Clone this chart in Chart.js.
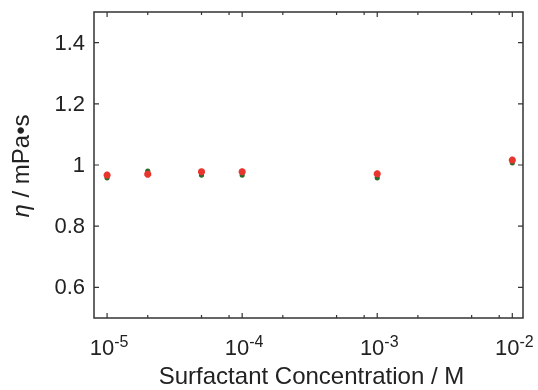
<!DOCTYPE html>
<html><head><meta charset="utf-8">
<script src="https://cdn.jsdelivr.net/npm/chart.js@4/dist/chart.umd.min.js"></script>
<style>body{margin:0;background:#fff}</style>
</head><body>
<canvas id="c" width="538" height="390"></canvas>
<script>
const concentrations = [1e-5, 2e-5, 5e-5, 1e-4, 1e-3, 1e-2];
const viscosityRed = [0.967, 0.970, 0.978, 0.978, 0.971, 1.016];
const viscosityGreen = [0.958, 0.980, 0.967, 0.967, 0.958, 1.007];
const xMajorTicks = [1e-5, 1e-4, 1e-3, 1e-2];
const xTickExponents = ['-5', '-4', '-3', '-2'];
const xMinorTicks = [2e-5, 5e-5, 8e-5, 2e-4, 5e-4, 8e-4, 2e-3, 5e-3, 8e-3];
const yTicks = [0.6, 0.8, 1.0, 1.2, 1.4];
const yTickLabels = ['0.6', '0.8', '1', '1.2', '1.4'];
const xTitle = 'Surfactant Concentration / M';
const yTitleSymbol = 'η';
const yTitleRest = ' / mPa•s';

const FONT = '"Liberation Sans", Arial, sans-serif';
const TEXT = '#222';

const framePlugin = {
  id: 'frame',
  beforeDatasetsDraw(chart) {
    const { ctx, chartArea: a, scales: { x, y } } = chart;
    ctx.save();
    ctx.strokeStyle = '#333';
    ctx.lineWidth = 1.5;
    ctx.strokeRect(a.left, a.top, a.right - a.left, a.bottom - a.top);
    ctx.lineWidth = 1.2;
    ctx.beginPath();
    const xt = (px, len) => {
      ctx.moveTo(px, a.bottom); ctx.lineTo(px, a.bottom - len);
      ctx.moveTo(px, a.top); ctx.lineTo(px, a.top + len);
    };
    xMajorTicks.forEach(v => xt(x.getPixelForValue(v), 5));
    xMinorTicks.forEach(v => xt(x.getPixelForValue(v), 3));
    yTicks.forEach(v => {
      const py = y.getPixelForValue(v);
      ctx.moveTo(a.left, py); ctx.lineTo(a.left + 5, py);
      ctx.moveTo(a.right, py); ctx.lineTo(a.right - 5, py);
    });
    ctx.stroke();
    ctx.restore();
  },
  afterDraw(chart) {
    const { ctx, chartArea: a, scales: { x, y } } = chart;
    ctx.save();
    ctx.fillStyle = TEXT;
    // y tick labels
    ctx.font = '22px ' + FONT;
    ctx.textAlign = 'right';
    ctx.textBaseline = 'middle';
    yTicks.forEach((v, i) => {
      ctx.fillText(yTickLabels[i], a.left - 9, y.getPixelForValue(v) + 1);
    });
    // x tick labels with superscript exponents
    ctx.textAlign = 'left';
    ctx.textBaseline = 'alphabetic';
    xMajorTicks.forEach((v, i) => {
      const px = x.getPixelForValue(v);
      ctx.font = '22px ' + FONT;
      const wb = ctx.measureText('10').width;
      ctx.font = '16px ' + FONT;
      const we = ctx.measureText(xTickExponents[i]).width;
      const start = px - (wb + we) / 2 + 2;
      ctx.font = '22px ' + FONT;
      ctx.fillText('10', start, a.bottom + 37);
      ctx.font = '16px ' + FONT;
      ctx.fillText(xTickExponents[i], start + wb, a.bottom + 29);
    });
    // x title
    ctx.font = '24px ' + FONT;
    ctx.textAlign = 'center';
    ctx.fillText(xTitle, (a.left + a.right) / 2 + 3, a.bottom + 66);
    // y title (rotated)
    ctx.translate(29, (a.top + a.bottom) / 2 + 1);
    ctx.rotate(-Math.PI / 2);
    ctx.textAlign = 'left';
    ctx.font = 'italic 24px ' + FONT;
    const w1 = ctx.measureText(yTitleSymbol).width;
    ctx.font = '24px ' + FONT;
    const w2 = ctx.measureText(yTitleRest).width;
    const s = -(w1 + w2) / 2;
    ctx.font = 'italic 24px ' + FONT;
    ctx.fillText(yTitleSymbol, s, 0);
    ctx.font = '24px ' + FONT;
    ctx.fillText(yTitleRest, s + w1, 0);
    ctx.restore();
  }
};

new Chart(document.getElementById('c'), {
  type: 'scatter',
  data: {
    datasets: [
      {
        label: 'red',
        data: concentrations.map((c, i) => ({ x: c, y: viscosityRed[i] })),
        pointStyle: 'star',
        radius: 3.5,
        borderWidth: 2.4,
        borderColor: '#e8352e',
        backgroundColor: '#e8352e',
        order: 0
      },
      {
        label: 'green',
        data: concentrations.map((c, i) => ({ x: c, y: viscosityGreen[i] })),
        pointStyle: 'circle',
        radius: 2.6,
        borderWidth: 0,
        backgroundColor: '#2c6a2c',
        order: 1
      }
    ]
  },
  options: {
    responsive: false,
    devicePixelRatio: 1,
    animation: false,
    layout: { padding: { left: 0, top: 12, right: 15, bottom: 0 } },
    plugins: { legend: { display: false }, tooltip: { enabled: false } },
    scales: {
      x: {
        type: 'logarithmic', min: 8e-6, max: 1.2e-2, position: 'bottom',
        ticks: { display: false }, grid: { display: false }, border: { display: false },
        afterFit: s => { s.height = 72; }
      },
      y: {
        type: 'linear', min: 0.5, max: 1.5,
        ticks: { display: false }, grid: { display: false }, border: { display: false },
        afterFit: s => { s.width = 94; }
      }
    }
  },
  plugins: [framePlugin]
});
</script>
</body></html>
